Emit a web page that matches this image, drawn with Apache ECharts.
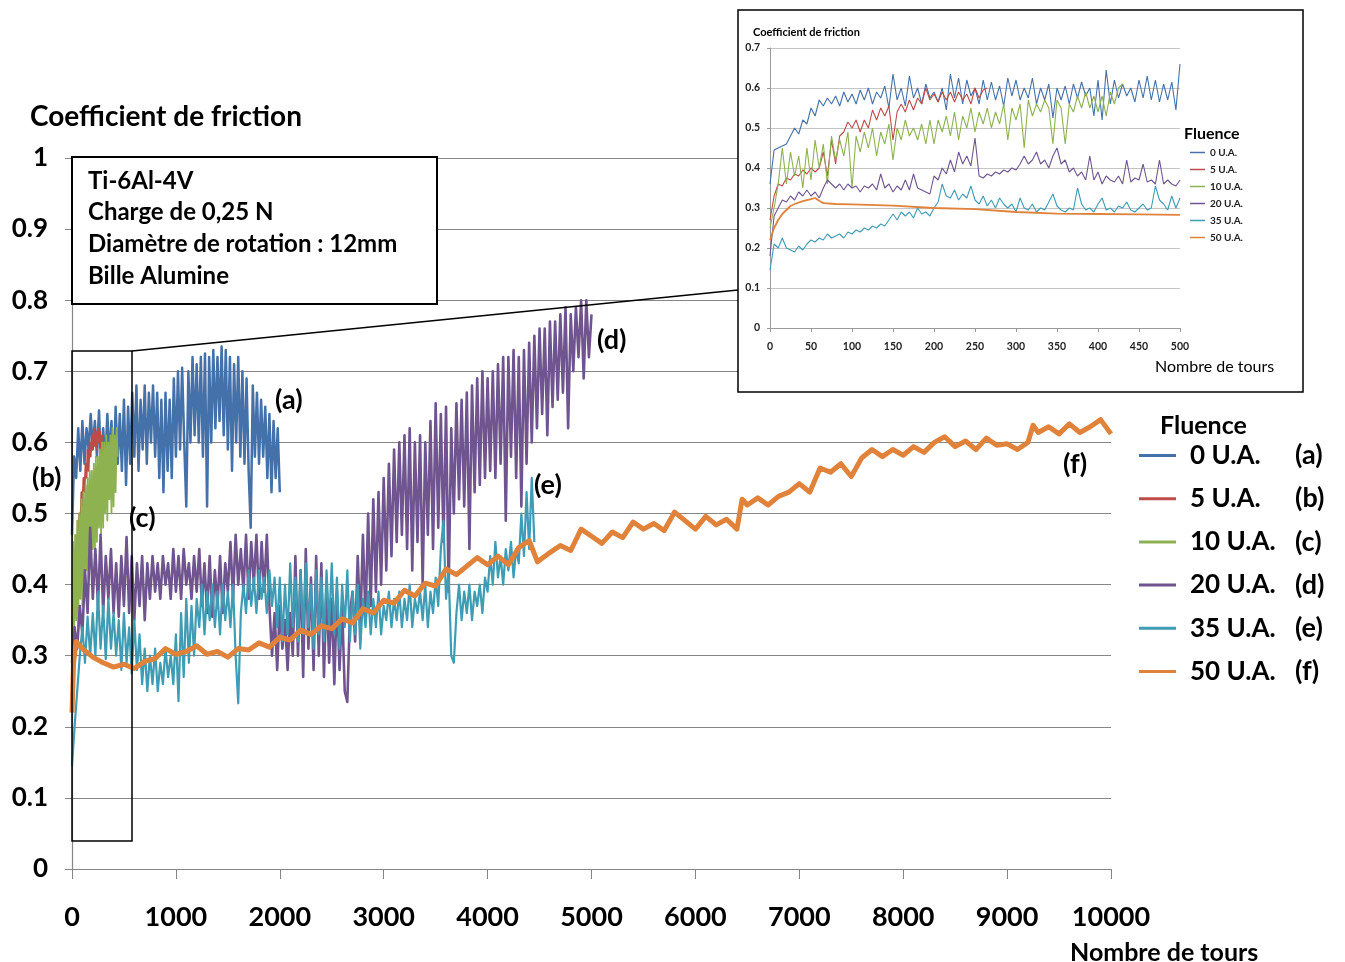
<!DOCTYPE html>
<html><head><meta charset="utf-8">
<script src="https://cdn.jsdelivr.net/npm/echarts@6/dist/echarts.min.js"></script>
<style>html,body{margin:0;padding:0;background:#fff}#c{width:1345px;height:962px}</style>
</head><body><div id="c"></div><script>
// ---------- names / colours ----------
const seriesNames = ['0 U.A.', '5 U.A.', '10 U.A.', '20 U.A.', '35 U.A.', '50 U.A.'];
const seriesLetters = ['(a)', '(b)', '(c)', '(d)', '(e)', '(f)'];
const colors = ['#4471AA', '#BE4B48', '#8DB24F', '#6F548F', '#3E9CB5', '#E0823A'];
const mainYTicks = [0, 0.1, 0.2, 0.3, 0.4, 0.5, 0.6, 0.7, 0.8, 0.9, 1];
const mainXTicks = [0, 1000, 2000, 3000, 4000, 5000, 6000, 7000, 8000, 9000, 10000];

// ---------- main chart data (evenly spaced samples from 0 to end) ----------
const mainBlueEnd = 2000;
const mainBlue = [0.47,0.58,0.55,0.62,0.56,0.63,0.57,0.62,0.59,0.64,0.59,0.63,0.58,0.645,0.56,0.62,0.57,0.64,0.58,0.63,
  0.55,0.65,0.57,0.64,0.56,0.66,0.54,0.65,0.57,0.67,0.58,0.68,0.56,0.66,0.59,0.68,0.57,0.67,0.60,0.68,
  0.58,0.67,0.55,0.66,0.53,0.67,0.56,0.66,0.55,0.69,0.58,0.70,0.59,0.705,0.60,0.51,0.70,0.60,0.72,0.61,
  0.71,0.60,0.72,0.58,0.725,0.51,0.72,0.60,0.73,0.62,0.72,0.63,0.735,0.61,0.73,0.59,0.72,0.56,0.71,0.60,
  0.72,0.58,0.70,0.57,0.69,0.56,0.48,0.68,0.58,0.67,0.57,0.66,0.58,0.65,0.55,0.64,0.53,0.63,0.55,0.62,0.53];
const mainRedEnd = 290;
const mainRed = [0.30,0.38,0.40,0.44,0.42,0.47,0.45,0.50,0.48,0.53,0.51,0.55,0.53,0.57,0.55,0.59,0.56,0.60,0.58,0.61,
  0.59,0.62,0.595,0.615,0.59,0.62,0.60,0.615,0.59,0.61];
const mainGreenEnd = 440;
const mainGreen = [0.30,0.46,0.33,0.47,0.35,0.49,0.34,0.50,0.38,0.52,0.37,0.53,0.40,0.54,0.42,0.55,0.41,0.56,0.43,0.56,
  0.45,0.57,0.44,0.58,0.46,0.58,0.48,0.59,0.47,0.60,0.48,0.60,0.50,0.61,0.49,0.60,0.52,0.61,0.50,0.62,
  0.51,0.61,0.53,0.62,0.58];
const mainPurpleEnd = 5000;
const mainPurple = [0.29,0.34,0.31,0.37,0.33,0.42,0.36,0.48,0.38,
  0.45,0.37,0.47,0.36,0.44,0.38,0.45,0.36,0.43,0.355,0.44,0.37,
  0.467,0.36,0.44,0.35,0.43,0.37,0.44,0.35,
  0.43,0.38,0.44,0.39,0.43,0.38,0.44,0.40,0.43,0.38,
  0.45,0.39,0.44,0.38,0.45,0.40,0.43,0.38,0.44,0.39,0.45,
  0.37,0.43,0.36,0.44,0.355,0.42,0.37,0.44,0.36,0.43,
  0.39,0.46,0.38,0.47,0.40,0.45,0.39,0.47,0.38,0.46,0.40,0.47,0.38,0.46,0.39,0.47,
  0.37,0.30,0.36,0.28,0.37,0.31,0.35,0.28,0.36,0.30,
  0.44,0.30,0.42,0.27,0.45,0.31,0.41,0.28,0.44,0.30,0.43,0.27,0.40,0.29,
  0.38,0.26,0.39,0.28,0.37,0.25,0.235,0.36,0.39,
  0.32,0.44,0.34,0.47,0.35,0.50,0.37,0.52,0.39,0.53,
  0.40,0.55,0.42,0.57,0.44,0.59,0.46,0.60,0.47,
  0.61,0.45,0.62,0.42,0.60,0.46,0.61,0.40,0.60,0.47,
  0.63,0.45,0.655,0.48,0.64,0.46,0.65,0.39,0.62,0.50,0.655,0.52,0.66,
  0.51,0.67,0.45,0.68,0.53,0.69,0.54,0.70,0.55,0.69,0.56,0.70,0.55,
  0.71,0.57,0.72,0.49,0.72,0.58,0.73,0.55,0.72,0.51,0.73,0.57,0.74,
  0.60,0.75,0.62,0.76,0.64,0.76,0.61,0.77,0.65,0.77,0.66,0.78,0.67,
  0.79,0.62,0.78,0.70,0.79,0.72,0.80,0.69,0.80,0.72,0.78];
const mainTealEnd = 4450;
const mainTeal = [0.145,0.20,0.25,0.30,0.34,0.29,0.355,0.30,0.36,
  0.30,0.39,0.31,0.37,0.295,0.38,0.31,0.36,0.30,0.35,
  0.28,0.36,0.29,0.34,0.275,0.35,0.28,0.33,
  0.26,0.31,0.25,0.30,0.26,0.31,0.25,0.29,0.26,0.31,0.27,0.30,
  0.26,0.33,0.236,0.36,0.27,0.38,0.29,0.37,0.30,
  0.38,0.34,0.40,0.33,0.39,0.35,0.40,0.34,0.39,0.33,0.40,0.35,0.39,0.34,0.40,
  0.30,0.233,0.36,0.40,
  0.36,0.42,0.37,0.41,0.36,0.42,0.38,0.41,0.36,0.42,0.37,0.41,
  0.34,0.41,0.32,0.40,0.33,0.43,0.34,0.41,0.32,0.42,0.33,0.43,0.34,0.40,0.31,0.42,0.33,0.41,0.32,0.42,0.34,
  0.43,0.33,0.41,0.31,0.40,0.34,0.42,0.32,0.39,0.33,0.40,0.31,0.38,
  0.34,0.39,0.33,0.38,0.34,0.39,0.33,0.37,0.35,0.39,0.34,0.38,0.35,0.39,0.34,0.38,0.35,0.40,0.34,0.38,0.36,0.39,0.35,0.40,0.34,0.39,
  0.36,0.41,0.37,0.45,0.49,0.38,0.42,0.30,0.29,0.36,
  0.40,0.35,0.39,0.36,0.40,0.35,0.39,0.37,0.40,0.36,0.41,
  0.39,0.44,0.40,0.46,0.41,0.44,0.40,0.45,0.42,0.46,0.41,0.45,
  0.43,0.50,0.44,0.53,0.45,0.55,0.46];
const mainOrange = [[0,0.22],[15,0.29],[40,0.32],[70,0.315],[100,0.31],[200,0.298],[300,0.29],[400,0.284],[500,0.288],
  [600,0.282],[700,0.292],[800,0.296],[900,0.31],[1000,0.302],[1100,0.306],[1200,0.314],[1300,0.302],[1400,0.306],
  [1500,0.298],[1600,0.31],[1700,0.308],[1800,0.318],[1900,0.312],[2000,0.326],[2100,0.322],[2200,0.336],[2300,0.33],
  [2400,0.342],[2500,0.338],[2600,0.352],[2700,0.346],[2800,0.366],[2900,0.36],[3000,0.378],[3100,0.374],[3200,0.392],
  [3300,0.384],[3400,0.402],[3500,0.398],[3600,0.422],[3700,0.414],[3800,0.426],[3900,0.438],[4000,0.428],[4100,0.44],
  [4200,0.428],[4300,0.452],[4400,0.462],[4480,0.432],[4600,0.445],[4700,0.455],[4800,0.448],[4900,0.478],[5000,0.468],
  [5100,0.458],[5200,0.474],[5300,0.466],[5400,0.488],[5500,0.478],[5600,0.486],[5700,0.476],[5800,0.502],[5900,0.49],
  [6000,0.478],[6100,0.496],[6200,0.484],[6300,0.492],[6400,0.478],[6450,0.52],[6500,0.512],[6600,0.522],[6700,0.512],
  [6800,0.524],[6900,0.53],[7000,0.542],[7100,0.53],[7200,0.564],[7300,0.558],[7400,0.57],[7500,0.552],[7600,0.578],
  [7700,0.59],[7800,0.58],[7900,0.59],[8000,0.582],[8100,0.594],[8200,0.586],[8300,0.6],[8400,0.608],[8500,0.594],
  [8600,0.602],[8700,0.59],[8800,0.606],[8900,0.596],[9000,0.598],[9100,0.59],[9200,0.6],[9250,0.624],[9300,0.614],
  [9400,0.622],[9500,0.612],[9600,0.626],[9700,0.614],[9800,0.622],[9900,0.632],[10000,0.612]];

// ---------- inset data (first 500 turns) ----------
const insetBlueEnd = 500;
const insetBlue = [0.36,0.445,0.45,0.455,0.46,0.48,0.50,0.485,0.52,0.51,0.55,0.53,0.57,0.555,0.575,0.56,0.58,0.555,0.59,0.565,
  0.585,0.56,0.595,0.57,0.60,0.56,0.59,0.575,0.605,0.55,0.635,0.57,0.60,0.555,0.63,0.575,0.60,0.56,0.61,0.575,
  0.59,0.565,0.60,0.545,0.635,0.575,0.625,0.56,0.62,0.58,0.60,0.56,0.62,0.57,0.615,0.57,0.605,0.555,0.625,0.58,
  0.62,0.57,0.60,0.575,0.625,0.56,0.60,0.57,0.61,0.525,0.60,0.57,0.605,0.56,0.61,0.575,0.615,0.58,0.60,0.53,
  0.62,0.52,0.645,0.56,0.62,0.575,0.61,0.58,0.60,0.565,0.62,0.575,0.63,0.57,0.62,0.565,0.61,0.57,0.615,0.545,0.66];
const insetRedEnd = 265;
const insetRed = [0.27,0.33,0.36,0.355,0.375,0.37,0.385,0.38,0.395,0.385,0.40,0.39,0.40,0.44,0.38,0.47,0.41,0.48,0.49,0.515,
  0.50,0.52,0.49,0.52,0.50,0.545,0.52,0.55,0.53,0.555,0.47,0.54,0.56,0.54,0.57,0.545,0.575,0.56,0.60,0.57,
  0.585,0.565,0.59,0.57,0.59,0.565,0.59,0.57,0.585,0.56,0.60,0.575,0.595,0.60];
const insetGreenEnd = 430;
const insetGreen = [0.25,0.30,0.36,0.45,0.36,0.44,0.38,0.43,0.35,0.45,0.37,0.47,0.40,0.46,0.36,0.48,0.42,0.47,0.43,0.49,
  0.35,0.48,0.44,0.49,0.45,0.50,0.43,0.49,0.46,0.51,0.42,0.50,0.47,0.52,0.48,0.50,0.47,0.51,0.46,0.52,
  0.46,0.52,0.49,0.53,0.48,0.54,0.47,0.53,0.50,0.55,0.49,0.54,0.51,0.55,0.50,0.54,0.51,0.56,0.47,0.55,
  0.52,0.56,0.45,0.57,0.53,0.56,0.54,0.57,0.55,0.46,0.57,0.55,0.46,0.56,0.54,0.58,0.55,0.59,0.55,0.58,
  0.54,0.58,0.53,0.59,0.56,0.60,0.61];
const insetPurpleEnd = 500;
const insetPurple = [0.18,0.28,0.30,0.32,0.315,0.33,0.32,0.34,0.33,0.345,0.33,0.34,0.325,0.35,0.37,0.36,0.35,0.36,0.345,0.36,
  0.35,0.355,0.34,0.355,0.35,0.36,0.345,0.385,0.35,0.36,0.34,0.355,0.345,0.37,0.345,0.385,0.35,0.345,0.34,0.335,
  0.38,0.37,0.40,0.385,0.42,0.39,0.44,0.41,0.43,0.405,0.475,0.38,0.375,0.385,0.38,0.39,0.385,0.395,0.39,0.40,
  0.395,0.41,0.43,0.41,0.42,0.44,0.41,0.42,0.40,0.43,0.45,0.41,0.42,0.39,0.40,0.38,0.39,0.37,0.43,0.37,
  0.39,0.36,0.38,0.37,0.365,0.38,0.36,0.42,0.365,0.375,0.37,0.41,0.365,0.37,0.36,0.42,0.36,0.37,0.36,0.355,0.37];
const insetTealEnd = 500;
const insetTeal = [0.145,0.21,0.20,0.225,0.20,0.195,0.19,0.205,0.195,0.21,0.22,0.215,0.225,0.22,0.235,0.225,0.23,0.235,0.225,0.24,
  0.235,0.245,0.24,0.25,0.245,0.255,0.25,0.26,0.255,0.27,0.285,0.27,0.29,0.28,0.29,0.275,0.30,0.285,0.29,0.28,
  0.30,0.315,0.36,0.33,0.325,0.345,0.32,0.335,0.325,0.355,0.32,0.31,0.33,0.305,0.32,0.30,0.325,0.31,0.30,0.31,
  0.29,0.325,0.30,0.295,0.31,0.29,0.30,0.295,0.315,0.335,0.305,0.295,0.29,0.30,0.295,0.35,0.31,0.295,0.30,0.29,
  0.31,0.325,0.295,0.30,0.29,0.305,0.30,0.315,0.295,0.29,0.30,0.31,0.295,0.30,0.355,0.32,0.31,0.295,0.33,0.30,0.325];
const insetOrange = [[0,0.22],[5,0.25],[10,0.27],[15,0.285],[20,0.295],[25,0.305],[30,0.31],[40,0.317],[50,0.322],
  [55,0.325],[60,0.318],[65,0.312],[80,0.31],[100,0.309],[150,0.306],[200,0.30],[250,0.297],[300,0.29],[350,0.286],
  [400,0.285],[450,0.284],[500,0.283]];

// ---------- build ----------
function spread(vals, end) {
  return vals.map((v, i) => [end * i / (vals.length - 1), v]);
}
const mainData = [spread(mainBlue, mainBlueEnd), spread(mainRed, mainRedEnd), spread(mainGreen, mainGreenEnd),
  spread(mainPurple, mainPurpleEnd), spread(mainTeal, mainTealEnd), mainOrange];
const insetData = [spread(insetBlue, insetBlueEnd), spread(insetRed, insetRedEnd), spread(insetGreen, insetGreenEnd),
  spread(insetPurple, insetPurpleEnd), spread(insetTeal, insetTealEnd), insetOrange];
const mainWidths = [2.5, 1.8, 1.8, 2.6, 2.2, 5];
const insetWidths = [1.1, 1.1, 1.1, 1.1, 1.1, 1.8];

const F = 'Lato, "DejaVu Sans", sans-serif';
const fmtY = v => (Math.abs(v) < 1e-9 ? '0' : Math.abs(v - 1) < 1e-9 ? '1' : v.toFixed(1));

const series = [];
seriesNames.forEach((n, i) => {
  series.push({ name: n, type: 'line', xAxisIndex: 0, yAxisIndex: 0, data: mainData[i], showSymbol: false,
    symbol: 'none', silent: true, z: 2, lineStyle: { color: colors[i], width: mainWidths[i], join: 'round' },
    itemStyle: { color: colors[i] } });
});
seriesNames.forEach((n, i) => {
  series.push({ name: n, type: 'line', xAxisIndex: 1, yAxisIndex: 1, data: insetData[i], showSymbol: false,
    symbol: 'none', silent: true, z: 4, lineStyle: { color: colors[i], width: insetWidths[i] },
    itemStyle: { color: colors[i] } });
});

const txt = (x, y, t, size, weight, fam) => ({
  type: 'text', x: x, y: y, z: 20,
  style: { text: t, font: (weight || 'bold') + ' ' + size + 'px ' + (fam || F), fill: '#000', textVerticalAlign: 'middle' }
});

const graphics = [
  // inset frame (white, covers main gridlines)
  { type: 'rect', z: 1, shape: { x: 738, y: 10, width: 565, height: 382 }, style: { fill: '#fff', stroke: '#000', lineWidth: 1.5 } },
  // information box
  { type: 'rect', z: 10, shape: { x: 72, y: 157, width: 365, height: 147 }, style: { fill: '#fff', stroke: '#000', lineWidth: 2 } },
  txt(88, 181, 'Ti-6Al-4V', 24), txt(88, 212, 'Charge de 0,25 N', 24),
  txt(88, 244, 'Diamètre de rotation : 12mm', 24), txt(88, 276, 'Bille Alumine', 24),
  // zoom rectangle + connector
  { type: 'rect', z: 12, shape: { x: 72, y: 351, width: 60, height: 490 }, style: { fill: 'none', stroke: '#000', lineWidth: 1.5 } },
  { type: 'line', z: 12, shape: { x1: 132, y1: 351, x2: 738, y2: 290 }, style: { stroke: '#000', lineWidth: 1.3 } },
  // titles
  txt(30, 117, 'Coefficient de friction', 28),
  txt(1070, 953, 'Nombre de tours', 25),
  txt(1160, 426, 'Fluence', 25),
  txt(753, 32, 'Coefficient de friction', 11),
  txt(1155, 367, 'Nombre de tours', 16, 'normal'),
  txt(1184, 134, 'Fluence', 16),
  // curve labels
  txt(275, 400, '(a)', 27), txt(32, 478, '(b)', 27), txt(129, 518, '(c)', 27),
  txt(597, 340, '(d)', 27), txt(534, 485, '(e)', 27), txt(1063, 464, '(f)', 27)
];

const chart = echarts.init(document.getElementById('c'), null, { renderer: 'canvas' });
chart.setOption({
  animation: false,
  backgroundColor: '#fff',
  color: colors,
  grid: [
    { left: 72, top: 158, width: 1039, height: 711, containLabel: false },
    { left: 770, top: 48, width: 410, height: 280, containLabel: false }
  ],
  xAxis: [
    { type: 'value', gridIndex: 0, min: mainXTicks[0], max: mainXTicks[mainXTicks.length - 1], interval: 1000, z: 0,
      axisLine: { show: true, lineStyle: { color: '#868686', width: 1.2 } },
      axisTick: { show: true, length: 10, inside: false, lineStyle: { color: '#868686' } },
      splitLine: { show: false },
      axisLabel: { margin: 35, color: '#000', fontSize: 27, fontWeight: 'bold', fontFamily: F, formatter: v => String(v) } },
    { type: 'value', gridIndex: 1, min: 0, max: 500, interval: 50, z: 3,
      axisLine: { show: true, lineStyle: { color: '#9a9a9a' } },
      axisTick: { show: true, length: 4, lineStyle: { color: '#9a9a9a' } },
      splitLine: { show: false },
      axisLabel: { margin: 13, color: '#222', fontSize: 10.5, fontWeight: 'bold', fontFamily: F, formatter: v => String(v) } }
  ],
  yAxis: [
    { type: 'value', gridIndex: 0, min: mainYTicks[0], max: mainYTicks[mainYTicks.length - 1], interval: 0.1, z: 0,
      axisLine: { show: true, lineStyle: { color: '#868686', width: 1.2 } },
      axisTick: { show: true, length: 7, lineStyle: { color: '#868686' } },
      splitLine: { show: true, lineStyle: { color: '#868686', width: 1.2 } },
      axisLabel: { margin: 24, color: '#000', fontSize: 26, fontWeight: 'bold', fontFamily: F, formatter: fmtY } },
    { type: 'value', gridIndex: 1, min: 0, max: 0.7, interval: 0.1, z: 3,
      axisLine: { show: true, lineStyle: { color: '#9a9a9a' } },
      axisTick: { show: true, length: 3, lineStyle: { color: '#9a9a9a' } },
      splitLine: { show: true, lineStyle: { color: '#c4c4c4' } },
      axisLabel: { margin: 10, color: '#222', fontSize: 10.5, fontWeight: 'bold', fontFamily: F, formatter: fmtY } }
  ],
  legend: [
    { data: seriesNames, orient: 'vertical', left: 1139, top: 442, padding: 0, itemWidth: 37, itemHeight: 3, icon: 'rect',
      itemGap: 16.2, selectedMode: false,
      formatter: name => '{n|' + name + '}{l|' + seriesLetters[seriesNames.indexOf(name)] + '}',
      textStyle: { rich: {
        n: { fontFamily: F, fontSize: 26, fontWeight: 'bold', color: '#000', width: 105, lineHeight: 24, padding: [0, 0, 0, 9] },
        l: { fontFamily: F, fontSize: 27, fontWeight: 'bold', color: '#000', lineHeight: 24 } } } },
    { data: seriesNames, orient: 'vertical', left: 1190, top: 147, padding: 0, itemWidth: 15, itemHeight: 1.5, icon: 'rect',
      itemGap: 6, selectedMode: false,
      textStyle: { fontFamily: F, fontSize: 10, fontWeight: 'bold', color: '#222', lineHeight: 11 } }
  ],
  series: series,
  graphic: graphics
});
</script></body></html>
